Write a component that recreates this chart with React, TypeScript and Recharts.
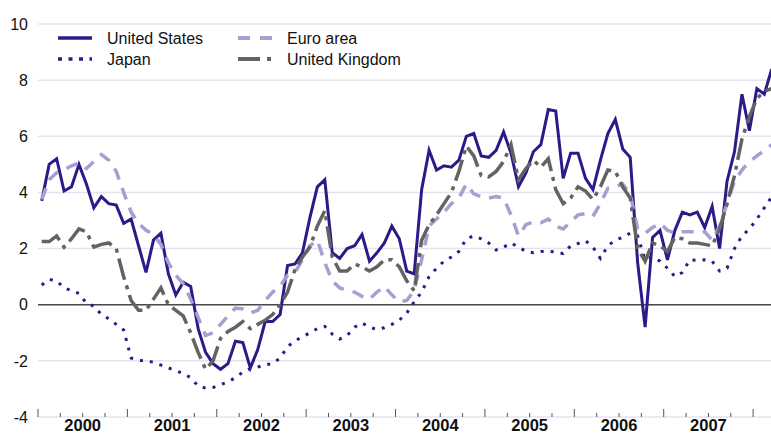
import React from 'react';
import { LineChart, Line, XAxis, YAxis, CartesianGrid, ReferenceLine, Customized } from 'recharts';

// Monthly values, Jan 2000 .. Mar 2008
const usValues = [
  3.7, 5.0, 5.2, 4.05, 4.2, 5.0, 4.3, 3.45, 3.85, 3.6, 3.55, 2.9,
  3.05, 2.1, 1.15, 2.3, 2.55, 1.1, 0.35, 0.8, 0.65, -0.85, -1.7, -2.1,
  -2.3, -2.1, -1.3, -1.35, -2.25, -1.6, -0.6, -0.6, -0.35, 1.4, 1.45, 1.85,
  3.1, 4.2, 4.45, 1.85, 1.65, 2.0, 2.1, 2.5, 1.55, 1.85, 2.2, 2.8,
  2.35, 1.2, 1.1, 4.1, 5.5, 4.8, 4.95, 4.9, 5.15, 6.0, 6.1, 5.3,
  5.25, 5.5, 6.15, 5.4, 4.2, 4.7, 5.45, 5.7, 6.95, 6.9, 4.5, 5.4,
  5.4, 4.5, 4.1, 5.15, 6.1, 6.6, 5.55, 5.25, 1.5, -0.8, 2.4, 2.65,
  1.6, 2.65, 3.3, 3.2, 3.3, 2.75, 3.5, 2.0, 4.4, 5.45, 7.5, 6.2,
  7.7, 7.5, 8.4,
];
const japanValues = [
  0.7, 0.9, 0.85, 0.6, 0.5, 0.4, 0.05, -0.05, -0.35, -0.5, -0.7, -0.9,
  -1.9, -1.98, -2.0, -2.05, -2.15, -2.25, -2.35, -2.45, -2.6, -2.9, -2.97, -2.95,
  -2.85, -2.75, -2.6, -2.4, -2.28, -2.22, -2.14, -2.1, -1.9, -1.5, -1.28, -1.15,
  -1.0, -0.85, -0.77, -1.05, -1.22, -1.1, -0.8, -0.65, -0.8, -0.88, -0.82, -0.7,
  -0.55, -0.3, 0.1, 0.45, 1.0, 1.3, 1.55, 1.7, 1.9, 2.35, 2.45, 2.35,
  2.2, 1.95, 2.05, 2.2, 2.05, 1.9, 1.85, 1.9, 1.9, 1.88, 1.82, 2.1,
  2.18, 2.28, 2.05, 1.65, 2.1, 2.3, 2.4, 2.55, 2.45, 1.6, 1.7, 1.55,
  1.3, 1.0, 1.15, 1.6, 1.58, 1.6, 1.55, 1.2, 1.3, 2.0, 2.45, 2.7,
  3.05, 3.45, 3.85,
];
const euroValues = [
  3.75, 4.45, 4.7, 4.8, 4.95, 5.05, 4.85, 5.1, 5.35, 5.15, 4.75, 4.0,
  3.3, 2.9, 2.65, 2.5, 2.15, 1.5, 1.05, 0.75, 0.2, -0.45, -1.1, -1.0,
  -0.7, -0.4, -0.12, -0.15, -0.3, -0.2, 0.15, 0.45, 0.65, 1.05, 1.15, 1.6,
  2.1, 2.3, 1.5, 0.85, 0.6, 0.5, 0.45, 0.3, 0.2, 0.45, 0.65, 0.35,
  0.1, 0.15, 0.5, 1.6, 2.8, 3.05, 3.3, 3.6, 3.8, 4.3, 3.95, 3.85,
  3.8, 3.85, 3.8, 3.2, 2.45, 2.85, 2.95, 2.92, 3.05, 2.8, 2.7, 2.95,
  3.2, 3.25, 3.15, 3.6, 4.15, 4.2, 4.3, 3.95, 2.7, 2.55, 2.75, 2.9,
  2.65, 2.55, 2.6, 2.6, 2.6, 2.6, 2.3, 2.8, 3.6, 4.4, 4.8, 5.1,
  5.3, 5.5, 5.7,
];
const ukValues = [
  2.25, 2.25, 2.45, 2.05, 2.35, 2.7, 2.6, 2.05, 2.15, 2.2, 2.0, 1.0,
  0.15, -0.2, -0.2, 0.2, 0.6, 0.0, -0.2, -0.4, -1.0, -1.7, -2.3, -2.0,
  -1.2, -0.95, -0.8, -0.6, -0.85, -0.7, -0.55, -0.35, 0.0, 0.45, 1.25, 1.7,
  2.05, 2.8, 3.35, 1.7, 1.2, 1.2, 1.45, 1.35, 1.2, 1.35, 1.6, 1.6,
  1.35, 0.85, 0.5, 2.3, 2.85, 3.2, 3.6, 4.0, 4.75, 5.65, 5.3, 4.6,
  4.55, 4.75, 5.1, 5.7, 4.45, 4.85, 5.15, 4.9, 5.2, 4.1, 3.6, 3.8,
  4.2, 4.05, 3.75, 4.2, 4.8, 4.75, 4.2, 3.8, 2.0, 1.55, 2.2, 2.1,
  1.9, 2.4, 2.35, 2.2, 2.2, 2.15, 2.1, 2.7, 3.6, 4.6, 5.9, 6.7,
  7.35, 7.6, 7.7,
];

const yearLabels = ['2000', '2001', '2002', '2003', '2004', '2005', '2006', '2007'];
// quarter boundaries, in months since Jan 2000
const quarterTicks = [
  0, 3, 6, 9, 12, 15, 18, 21, 24, 27, 30, 33, 36, 39, 42, 45, 48,
  51, 54, 57, 60, 63, 66, 69, 72, 75, 78, 81, 84, 87, 90, 93, 96,
];
const yTicks = [-4, -2, 0, 2, 4, 6, 8, 10];

const data = usValues.map((v, i) => ({
  t: i + 0.5,
  us: v,
  jp: japanValues[i],
  ea: euroValues[i],
  uk: ukValues[i],
}));

const INDIGO = '#2b1a88';
const LAVENDER = '#a79ed1';
const GREY = '#636363';

const series = [
  { key: 'us', name: 'United States', color: INDIGO, width: 3, dash: undefined as string | undefined, legendDash: undefined as string | undefined },
  { key: 'jp', name: 'Japan', color: INDIGO, width: 3, dash: '3 7', legendDash: '4 6.5' },
  { key: 'ea', name: 'Euro area', color: LAVENDER, width: 3.5, dash: '12 9', legendDash: '12 10' },
  { key: 'uk', name: 'United Kingdom', color: GREY, width: 3.5, dash: '22 6 4 6', legendDash: '22 7 4 7' },
];

const XTick = (props: any) => {
  const { x, y, payload } = props;
  const v = payload.value as number;
  const major = v % 12 === 0;
  const yearIdx = (v - 6) / 12;
  return (
    <g>
      <line x1={x} x2={x} y1={y} y2={y - (major ? 8 : 4)} stroke="#555" strokeWidth={1} />
      {v % 12 === 6 && yearLabels[yearIdx] !== undefined && (
        <text x={x} y={y + 14} textAnchor="middle" fontWeight="bold" fontSize={16.5} fill="#111">
          {yearLabels[yearIdx]}
        </text>
      )}
    </g>
  );
};

const LegendLayer = () => {
  const colX = [58, 238];
  const rowY = [38, 59];
  const cells = [
    { s: series[0], c: 0, r: 0 },
    { s: series[1], c: 0, r: 1 },
    { s: series[2], c: 1, r: 0 },
    { s: series[3], c: 1, r: 1 },
  ];
  return (
    <g>
      {cells.map(({ s, c, r }) => (
        <g key={s.key}>
          <line
            x1={colX[c]}
            x2={colX[c] + 34}
            y1={rowY[r]}
            y2={rowY[r]}
            stroke={s.color}
            strokeWidth={s.key === 'ea' || s.key === 'uk' ? 4 : 3.5}
            strokeDasharray={s.legendDash}
          />
          <text x={colX[c] + 49} y={rowY[r] + 0.5} dominantBaseline="central" fontSize={16} fill="#111">
            {s.name}
          </text>
        </g>
      ))}
    </g>
  );
};

export default function App() {
  return (
    <div
      style={{
        position: 'absolute',
        left: 0,
        top: 0,
        width: 771,
        height: 435,
        background: '#fff',
        fontFamily: '"Liberation Sans", Arial, Helvetica, sans-serif',
      }}
    >
      <LineChart width={771} height={435} data={data} margin={{ top: 24, right: 0, bottom: 0, left: 0 }}>
        <CartesianGrid horizontal vertical={false} stroke="#e5e3f0" strokeWidth={1.5} />
        <XAxis
          dataKey="t"
          type="number"
          domain={[0, 98.4]}
          allowDataOverflow
          ticks={quarterTicks}
          interval={0}
          height={18}
          axisLine={false}
          tickLine={false}
          tickSize={0}
          tickMargin={0}
          tick={<XTick />}
        />
        <YAxis
          type="number"
          domain={[-4, 10]}
          ticks={yTicks}
          interval={0}
          width={38}
          axisLine={false}
          tickLine={false}
          tickSize={0}
          tickMargin={10}
          tick={{ fontSize: 16, fill: '#111' }}
        />
        <ReferenceLine y={0} stroke="#4a4a4a" strokeWidth={1.5} />
        {series.map((s) => (
          <Line
            key={s.key}
            dataKey={s.key}
            name={s.name}
            type="linear"
            stroke={s.color}
            strokeWidth={s.width}
            strokeDasharray={s.dash}
            dot={false}
            activeDot={false}
            isAnimationActive={false}
          />
        ))}
        <Customized component={<LegendLayer />} />
      </LineChart>
    </div>
  );
}
